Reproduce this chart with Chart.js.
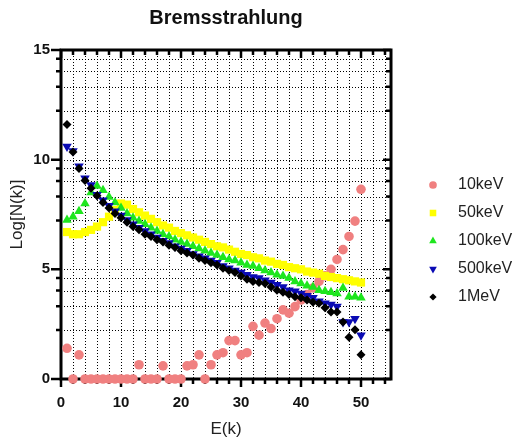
<!DOCTYPE html>
<html>
<head>
<meta charset="utf-8">
<script src="https://cdn.jsdelivr.net/npm/chart.js@4/dist/chart.umd.min.js"></script>
<style>
  html, body { margin: 0; padding: 0; background: #fff; }
  #wrap { width: 515px; height: 443px; }
</style>
</head>
<body>
<div id="wrap"><canvas id="bremsChart" width="515" height="443"></canvas></div>
<script>
// photon energy bins E(k)
const energies = [1, 2, 3, 4, 5, 6, 7, 8, 9, 10,
                  11, 12, 13, 14, 15, 16, 17, 18, 19, 20,
                  21, 22, 23, 24, 25, 26, 27, 28, 29, 30,
                  31, 32, 33, 34, 35, 36, 37, 38, 39, 40,
                  41, 42, 43, 44, 45, 46, 47, 48, 49, 50];

// Log[N(k)] per electron energy
const keV10 = [1.4, 0, 1.1, 0, 0, 0, 0, 0, 0, 0,
               0, 0, 0.65, 0, 0, 0, 0.6, 0, 0, 0,
               0.6, 0.65, 1.1, 0, 0.65, 1.1, 1.2, 1.75, 1.75, 1.1,
               1.2, 2.4, 2.0, 2.55, 2.3, 2.75, 3.15, 3.0, 3.3, 3.6,
               3.85, 4.15, 4.45, 4.7, 5.0, 5.45, 5.9, 6.5, 7.2, 8.65];
const keV50 = [6.7, 6.6, 6.6, 6.7, 6.8, 6.95, 7.15, 7.4, 7.7, 8.0,
               7.95, 7.75, 7.6, 7.45, 7.3, 7.15, 7.0, 6.9, 6.75, 6.65,
               6.55, 6.45, 6.35, 6.25, 6.15, 6.05, 6.0, 5.9, 5.8, 5.7,
               5.65, 5.55, 5.5, 5.4, 5.35, 5.25, 5.2, 5.1, 5.05, 5.0,
               4.9, 4.85, 4.8, 4.7, 4.65, 4.6, 4.55, 4.5, 4.45, 4.4];
const keV100 = [7.25, 7.4, 7.65, 8.0, 8.5, 8.8, 8.6, 8.3, 8.05, 7.8,
                7.55, 7.35, 7.2, 7.05, 6.9, 6.75, 6.6, 6.5, 6.35, 6.25,
                6.15, 6.05, 5.95, 5.85, 5.75, 5.65, 5.55, 5.45, 5.4, 5.3,
                5.2, 5.15, 5.05, 4.95, 4.85, 4.75, 4.7, 4.6, 4.45, 4.35,
                4.25, 4.2, 4.05, 4.0, 3.95, 3.9, 4.15, 3.75, 3.75, 3.7];
const keV500 = [10.6, 10.4, 9.7, 9.15, 8.85, 8.4, 8.15, 7.9, 7.65, 7.45,
                7.25, 7.05, 6.9, 6.75, 6.6, 6.45, 6.3, 6.2, 6.05, 5.95,
                5.85, 5.7, 5.6, 5.5, 5.4, 5.3, 5.15, 5.05, 4.95, 4.85,
                4.75, 4.65, 4.6, 4.5, 4.4, 4.3, 4.2, 4.05, 4.0, 3.9,
                3.8, 3.7, 3.55, 3.45, 3.4, 3.3, 2.6, 2.6, 2.75, 2.0];
const MeV1 = [11.6, 10.35, 9.6, 9.05, 8.7, 8.35, 8.05, 7.8, 7.55, 7.35,
              7.15, 6.95, 6.8, 6.6, 6.5, 6.35, 6.25, 6.1, 6.0, 5.85,
              5.75, 5.65, 5.5, 5.4, 5.3, 5.2, 5.05, 4.95, 4.85, 4.7,
              4.55, 4.45, 4.4, 4.35, 4.2, 4.05, 3.95, 3.85, 3.75, 3.7,
              3.6, 3.5, 3.45, 3.25, 3.05, 3.05, 2.6, 1.9, 2.25, 1.1];

const seriesNames = ['10keV', '50keV', '100keV', '500keV', '1MeV'];

// axis ticks
const xLabelTicks = [0, 10, 20, 30, 40, 50];
const xGridTicks = [0, 2, 4, 6, 8, 10, 12, 14, 16, 18, 20, 22, 24, 26, 28,
                    30, 32, 34, 36, 38, 40, 42, 44, 46, 48, 50, 52, 54];
const yLabelTicks = [0, 5, 10, 15];
const yGridTicks = [0, 2.23, 3.32, 4.03, 4.6, 5, 7.23, 8.32, 9.03, 9.6,
                    10, 12.23, 13.32, 14.03, 14.6, 15];

const FONT = '"Liberation Sans", Arial, sans-serif';

function points(values) {
  return energies.map((e, i) => ({ x: e, y: values[i] }));
}

// dotted grid, tick marks and the boxed frame, drawn under the markers
const frameAndGrid = {
  id: 'frameAndGrid',
  beforeDatasetsDraw(chart) {
    const { ctx, chartArea: a, scales: { x, y } } = chart;
    ctx.save();
    ctx.strokeStyle = '#000';
    ctx.lineWidth = 1;
    ctx.setLineDash([1, 2]);
    ctx.beginPath();
    xGridTicks.forEach(v => {
      if (v <= 0) return;
      const px = Math.round(x.getPixelForValue(v)) + 0.5;
      ctx.moveTo(px, a.top);
      ctx.lineTo(px, a.bottom);
    });
    yGridTicks.forEach(v => {
      if (v <= 0 || v >= 15) return;
      const py = Math.round(y.getPixelForValue(v)) + 0.5;
      ctx.moveTo(a.left, py);
      ctx.lineTo(a.right, py);
    });
    ctx.stroke();
    ctx.setLineDash([]);

    ctx.lineWidth = 2.5;
    ctx.beginPath();
    xGridTicks.forEach(v => {
      const px = x.getPixelForValue(v);
      const major = xLabelTicks.includes(v);
      ctx.moveTo(px, a.bottom);
      ctx.lineTo(px, a.bottom + (major ? 8 : 5));
      ctx.moveTo(px, a.top);
      ctx.lineTo(px, a.top + (major ? 8 : 5));
    });
    yGridTicks.forEach(v => {
      const py = y.getPixelForValue(v);
      const major = yLabelTicks.includes(v);
      ctx.moveTo(a.left, py);
      ctx.lineTo(a.left - (major ? 10 : 5), py);
      ctx.moveTo(a.right, py);
      ctx.lineTo(a.right - (major ? 8 : 5), py);
    });
    ctx.stroke();

    ctx.lineWidth = 3;
    ctx.strokeRect(a.left, a.top, a.right - a.left, a.bottom - a.top);
    ctx.restore();
  }
};

// legend on the right, marker then label
const sideLegend = {
  id: 'sideLegend',
  afterDraw(chart) {
    const { ctx } = chart;
    ctx.save();
    ctx.font = '16px ' + FONT;
    ctx.textBaseline = 'middle';
    ctx.textAlign = 'left';
    chart.data.datasets.forEach((ds, i) => {
      const cy = 185 + i * 28;
      ctx.fillStyle = ds.backgroundColor;
      Chart.helpers.drawPoint(ctx, {
        pointStyle: ds.pointStyle,
        rotation: ds.rotation || 0,
        radius: ds.pointRadius * 0.8,
        borderWidth: 0
      }, 433, cy);
      ctx.fillStyle = '#222';
      ctx.fillText(ds.label, 458, cy);
    });
    ctx.restore();
  }
};

const chart = new Chart(document.getElementById('bremsChart'), {
  type: 'scatter',
  data: {
    datasets: [
      { label: seriesNames[0], data: points(keV10), pointStyle: 'circle', pointRadius: 4.8,
        backgroundColor: 'rgb(240,128,128)', order: 5 },
      { label: seriesNames[1], data: points(keV50), pointStyle: 'rect', pointRadius: 5.8,
        backgroundColor: 'rgb(255,255,0)', order: 4 },
      { label: seriesNames[2], data: points(keV100), pointStyle: 'triangle', pointRadius: 5.5,
        backgroundColor: 'rgb(30,230,30)', order: 3 },
      { label: seriesNames[3], data: points(keV500), pointStyle: 'triangle', rotation: 180, pointRadius: 5.5,
        backgroundColor: 'rgb(10,10,180)', order: 2 },
      { label: seriesNames[4], data: points(MeV1), pointStyle: 'rectRot', pointRadius: 4.5,
        backgroundColor: '#000', order: 1 }
    ].map(ds => Object.assign(ds, {
      pointBorderWidth: 0,
      borderWidth: 0,
      pointHoverRadius: ds.pointRadius,
      pointRotation: ds.rotation || 0,
      showLine: false,
      clip: false
    }))
  },
  options: {
    responsive: false,
    animation: false,
    layout: { padding: { right: 124 } },
    plugins: {
      legend: { display: false },
      tooltip: { enabled: false },
      title: {
        display: true,
        text: 'Bremsstrahlung',
        fullSize: false,
        color: '#111',
        font: { family: FONT, size: 20, weight: 'bold' },
        padding: { top: 6, bottom: 20 }
      }
    },
    scales: {
      x: {
        type: 'linear',
        min: 0,
        max: 55,
        afterBuildTicks: s => { s.ticks = xLabelTicks.map(v => ({ value: v })); },
        afterFit: s => { s.height = 64; },
        grid: { display: false, drawTicks: false },
        border: { display: false },
        ticks: {
          color: '#111',
          font: { family: FONT, size: 15, weight: 'bold' },
          padding: 15,
          maxRotation: 0,
          autoSkip: false
        },
        title: {
          display: true,
          text: 'E(k)',
          color: '#222',
          font: { family: FONT, size: 17 },
          padding: { top: 0, bottom: 3 }
        }
      },
      y: {
        type: 'linear',
        min: 0,
        max: 15,
        afterBuildTicks: s => { s.ticks = yLabelTicks.map(v => ({ value: v })); },
        afterFit: s => { s.width = 61; },
        grid: { display: false, drawTicks: false },
        border: { display: false },
        ticks: {
          color: '#111',
          font: { family: FONT, size: 15, weight: 'bold' },
          padding: 11,
          autoSkip: false
        },
        title: {
          display: true,
          text: 'Log[N(k)]',
          color: '#222',
          font: { family: FONT, size: 17 },
          padding: { top: 7, bottom: 0 }
        }
      }
    }
  },
  plugins: [frameAndGrid, sideLegend]
});
</script>
</body>
</html>
